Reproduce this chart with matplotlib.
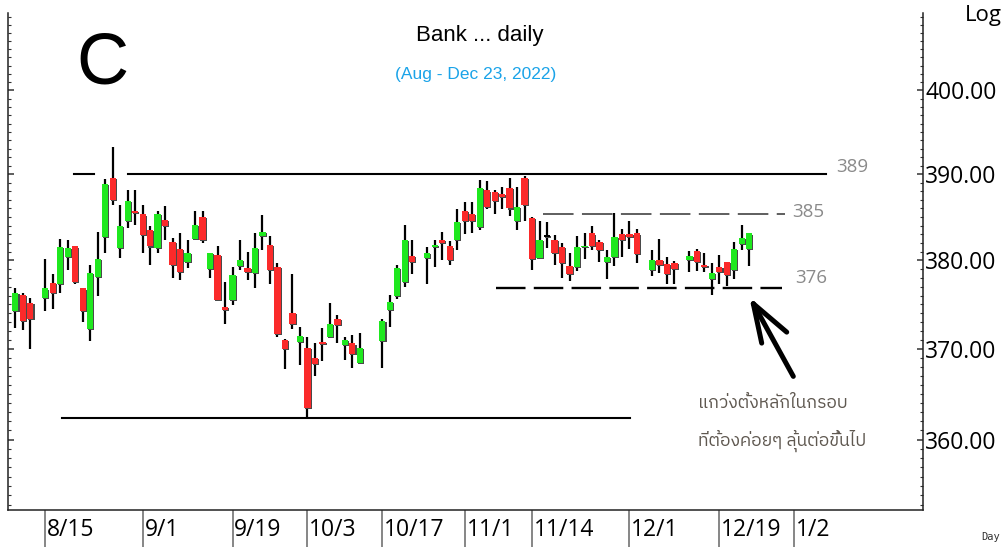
import numpy as np
import pandas as pd
import matplotlib
matplotlib.use("Agg")
import matplotlib.pyplot as plt
from matplotlib import font_manager
from matplotlib.ft2font import FT2Font
from matplotlib.ticker import FixedLocator, FuncFormatter, NullFormatter

# SET trading days, Aug 9 - Dec 23 2022 (holidays leave gaps on a weekday axis)
holidays = ["2022-08-12", "2022-10-13", "2022-10-14", "2022-10-24", "2022-12-05", "2022-12-12"]
dates = pd.bdate_range("2022-08-09", "2022-12-23").drop(pd.to_datetime(holidays))

opens = [374.2, 376.1, 375.2, 375.7, 377.4, 377.3, 380.4, 381.6, 376.8, 372.2,
         378.1, 382.7, 389.6, 381.4, 384.5, 385.7, 385.3, 383.5, 381.4, 384.7,
         382.1, 381.3, 379.8, 382.5, 385.0, 379.0, 380.6, 374.7, 375.5, 379.4,
         379.1, 378.6, 382.8, 381.8, 379.2, 371.0, 374.0, 370.8, 370.1, 369.0,
         370.8, 371.3, 373.3, 370.4, 370.6, 368.4, 370.9, 374.4, 375.9, 377.5,
         380.5, 380.3, 381.5, 382.4, 381.6, 382.4, 385.7, 385.4, 383.8, 388.1,
         387.9, 387.7, 388.4, 384.6, 389.6, 384.9, 380.3, 382.7, 382.3, 381.5,
         379.4, 379.2, 381.5, 383.1, 382.1, 379.8, 380.4, 383.0, 383.0, 383.1,
         378.9, 380.0, 379.6, 379.7, 380.1, 381.1, 379.5, 377.9, 379.2, 379.8,
         378.9, 381.9, 381.3]
highs = [376.9, 376.3, 375.7, 380.2, 378.4, 382.5, 382.4, 381.7, 376.9, 379.5,
         383.3, 389.5, 393.2, 386.4, 388.2, 388.2, 386.4, 384.0, 385.7, 386.3,
         382.6, 383.1, 382.4, 385.7, 385.7, 380.9, 381.6, 377.5, 379.2, 382.4,
         381.0, 383.2, 385.2, 382.8, 379.7, 371.1, 378.4, 372.5, 371.3, 370.6,
         372.3, 375.2, 373.8, 371.3, 371.5, 371.8, 373.3, 376.1, 379.5, 384.1,
         382.3, 381.5, 382.3, 383.3, 382.2, 385.9, 386.8, 386.8, 389.3, 389.2,
         388.2, 388.5, 389.6, 388.5, 389.8, 385.0, 384.5, 384.4, 382.9, 382.0,
         380.9, 382.8, 383.1, 384.0, 382.3, 381.2, 385.5, 383.6, 384.6, 383.6,
         381.2, 382.5, 380.4, 379.9, 381.1, 381.3, 380.8, 379.7, 380.6, 379.8,
         382.1, 384.1, 383.1]
lows = [372.3, 372.1, 370.0, 374.3, 374.5, 376.3, 378.9, 377.3, 373.0, 370.9,
        376.0, 380.8, 386.4, 380.3, 383.7, 384.1, 380.8, 379.5, 380.8, 382.3,
        378.0, 377.8, 379.1, 382.4, 382.0, 378.0, 375.4, 372.8, 374.9, 378.9,
        377.8, 376.8, 381.2, 377.3, 371.3, 367.8, 372.2, 368.2, 362.4, 367.0,
        368.6, 371.2, 370.6, 368.8, 367.9, 368.3, 367.9, 372.4, 375.6, 377.0,
        378.5, 377.3, 379.3, 380.0, 379.5, 381.2, 383.0, 383.2, 383.5, 385.9,
        385.4, 385.9, 385.1, 383.5, 384.5, 378.9, 380.2, 381.4, 379.5, 378.0,
        377.7, 378.8, 380.2, 381.2, 379.8, 377.9, 379.4, 380.4, 381.3, 379.7,
        378.2, 378.6, 377.3, 377.3, 378.7, 378.8, 378.7, 376.1, 377.3, 377.1,
        377.9, 381.2, 379.4]
closes = [376.3, 373.1, 373.4, 376.8, 376.3, 381.5, 381.4, 377.5, 374.2, 378.6,
          380.2, 388.9, 387.0, 384.0, 386.9, 385.5, 382.9, 381.6, 385.4, 384.0,
          379.5, 378.7, 380.8, 384.1, 382.3, 380.8, 375.5, 374.4, 378.3, 380.1,
          378.7, 381.4, 383.3, 378.9, 371.7, 370.0, 372.8, 371.4, 363.5, 368.3,
          370.5, 372.8, 372.7, 371.0, 369.4, 370.1, 373.1, 375.3, 379.1, 382.3,
          379.8, 380.9, 381.8, 382.0, 380.1, 384.4, 384.6, 384.6, 388.4, 386.2,
          386.9, 387.3, 386.0, 386.2, 386.4, 380.2, 382.4, 382.7, 380.8, 379.7,
          378.5, 381.5, 381.6, 381.7, 381.2, 380.4, 382.7, 382.3, 382.7, 380.7,
          380.0, 379.5, 378.5, 379.0, 380.5, 379.8, 379.2, 378.6, 378.7, 378.3,
          381.3, 382.6, 383.1]

tick_dates = ["2022-08-15", "2022-09-01", "2022-09-19", "2022-10-03", "2022-10-17",
              "2022-11-01", "2022-11-14", "2022-12-01", "2022-12-19", "2023-01-02"]
tick_labels = ["8/15", "9/1", "9/19", "10/3", "10/17", "11/1", "11/14", "12/1", "12/19", "1/2"]
price_ticks = [360, 370, 380, 390, 400]

# support / resistance levels drawn on the chart
level_prices = [390.0, 385.3, 376.9, 362.4]
level_labels = ["389", "385", "376", ""]


def find_thai_font():
    entries = sorted(font_manager.fontManager.ttflist,
                     key=lambda f: 0 if "thai" in f.name.lower() else 1)
    for fe in entries:
        try:
            if 0x0E01 in FT2Font(fe.fname).get_charmap():
                return fe.name
        except Exception:
            continue
    return "DejaVu Sans"


W, H = 1002, 547
fig = plt.figure(figsize=(W / 100, H / 100), dpi=100)
fig.patch.set_facecolor("white")
ax = fig.add_axes([7.5 / W, 1 - 509.5 / H, 915 / W, 496.5 / H])

start = np.datetime64("2022-08-09")
x = np.busday_count(start, dates.values.astype("datetime64[D]"))
xt = np.busday_count(start, np.array(tick_dates, dtype="datetime64[D]"))

o = np.array(opens)
h = np.array(highs)
l = np.array(lows)
c = np.array(closes)
up = c > o
down = c < o
colors = np.where(up, "#1fe81f", np.where(down, "#fb2a2a", "black"))
body_lo = np.minimum(o, c)
body_hi = np.maximum(o, c)
body_h = np.maximum(body_hi - body_lo, 0.2)

# wicks, shadow, bodies
ax.vlines(x, l, h, color="black", lw=1.6, zorder=2)
ax.bar(x + 0.14, body_h, bottom=body_lo - 0.12, width=0.84, color="#4a4a4a", zorder=3)
ax.bar(x, body_h, bottom=body_lo, width=0.84, color=colors, zorder=4)

ax.set_yscale("log")
ax.set_ylim(352.5, 409.44)
ax.set_xlim(-1.047, 121.13)

# level lines
ax.plot([7.83, 10.5], [level_prices[0]] * 2, color="black", lw=1.5, zorder=1)
ax.plot([15.04, 108.25], [level_prices[0]] * 2, color="black", lw=1.5, zorder=1)
ax.plot([70.5, 102.8], [level_prices[1]] * 2, color="#333333", lw=1.1,
        dashes=(20, 5.5), zorder=1)
ax.plot([64.2, 102.4], [level_prices[2]] * 2, color="black", lw=1.7,
        dashes=(12.5, 3.5), zorder=1)
ax.plot([6.2, 82.1], [level_prices[3]] * 2, color="black", lw=1.5, zorder=1)

lab_x = [109.6, 103.7, 104.1]
lab_shift = [1.0021, 1.0009, 1.0028]
for lx, ls, lp, lt in zip(lab_x, lab_shift, level_prices, level_labels):
    ax.text(lx, lp * ls, lt, color="#8a8a8a", fontsize=13.5, family="Open Sans",
            va="center", ha="left")

# arrow pointing to the lower edge of the range
tip = (98.54, 375.07)
ax.plot([103.88, tip[0]], [366.94, tip[1]], color="black", lw=3.6,
        solid_capstyle="round", zorder=5)
ax.plot([99.66, tip[0]], [370.64, tip[1]], color="black", lw=3.6,
        solid_capstyle="round", zorder=5)
ax.plot([103.0, tip[0]], [371.87, tip[1]], color="black", lw=3.6,
        solid_capstyle="round", zorder=5)

# axes styling
ax.spines["top"].set_visible(False)
for s in ["left", "right", "bottom"]:
    ax.spines[s].set_color("#222222")
    ax.spines[s].set_linewidth(1.1)

ax.yaxis.set_major_locator(FixedLocator(price_ticks))
ax.yaxis.set_minor_locator(FixedLocator(np.arange(353, 410)))
ax.yaxis.set_major_formatter(FuncFormatter(lambda v, p: f"{v:.2f}"))
ax.yaxis.set_minor_formatter(NullFormatter())
ax.tick_params(axis="y", which="both", direction="in", left=True, right=True,
               labelleft=False, labelright=True, color="#333333")
ax.tick_params(axis="y", which="major", length=4, width=1.1, pad=1.8,
               labelsize=16.5, labelcolor="black")
ax.tick_params(axis="y", which="minor", length=2.5, width=0.8)
for t in ax.get_yticklabels():
    t.set_family("Open Sans")

ax.set_xticks(xt)
ax.set_xticklabels([])
ax.tick_params(axis="x", which="major", direction="out", length=27, width=1.1,
               color="#666666")
for xv, lab in zip(xt, tick_labels):
    ax.annotate(lab, xy=(xv, 0), xycoords=("data", "axes fraction"),
                xytext=(1.3, -14.8), textcoords="offset points",
                ha="left", va="center", fontsize=16.5, family="Open Sans",
                annotation_clip=False)

# texts
fig.text(102 / W, 1 - 65 / H, "C", fontsize=52, family="Liberation Sans",
         ha="center", va="center")
fig.text(480 / W, 1 - 36 / H, "Bank ... daily", fontsize=16, family="Liberation Sans",
         ha="center", va="center")
fig.text(476 / W, 1 - 74 / H, "(Aug - Dec 23, 2022)", fontsize=12.5,
         family="Liberation Sans", color="#1aa3e8", ha="center", va="center")
fig.text(983 / W, 1 - 15 / H, "Log", fontsize=16, family="Open Sans",
         ha="center", va="center")
fig.text(991 / W, 1 - 537 / H, "Day", fontsize=7.5, family="DejaVu Sans Mono",
         color="#333333", ha="center", va="center")

thai = find_thai_font()
fig.text(698 / W, 1 - 403 / H, "แกว่งตั้งหลักในกรอบ", fontsize=12.7,
         family=[thai, "DejaVu Sans"], color="#5f5850", ha="left", va="center")
fig.text(698 / W, 1 - 441 / H, "ที่ต้องค่อยๆ ลุ้นต่อขึ้นไป", fontsize=12.7,
         family=[thai, "DejaVu Sans"], color="#5f5850", ha="left", va="center")

fig.savefig("out.png", dpi=100)
